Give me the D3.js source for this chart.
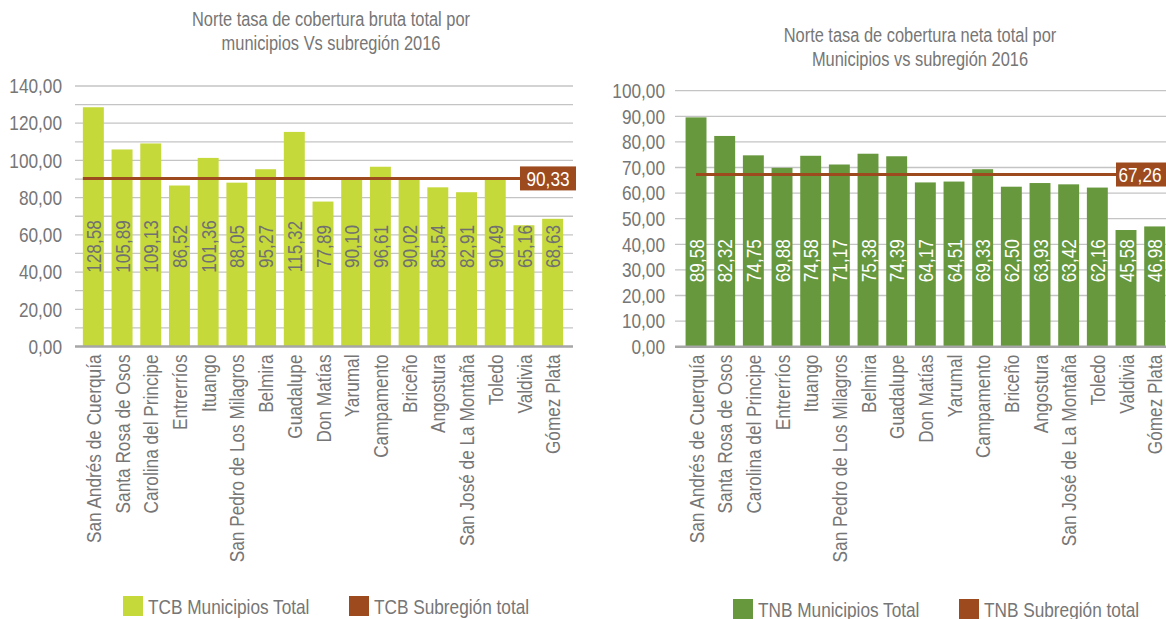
<!DOCTYPE html>
<html>
<head>
<meta charset="utf-8">
<script src="https://cdn.jsdelivr.net/npm/d3@7"></script>
<style>
  html, body { margin: 0; padding: 0; background: #ffffff; }
  svg { display: block; }
  text { font-family: "Liberation Sans", Arial, sans-serif; }
</style>
</head>
<body>
<svg id="chart" width="1166" height="619"></svg>
<script>
// Municipalities of the Norte subregion
const categories = [
  "San Andrés de Cuerquía", "Santa Rosa de Osos", "Carolina del Principe", "Entrerríos",
  "Ituango", "San Pedro de Los Milagros", "Belmira", "Guadalupe", "Don Matías",
  "Yarumal", "Campamento", "Briceño", "Angostura", "San José de La Montaña",
  "Toledo", "Valdivia", "Gómez Plata"
];

// Gross coverage rate (TCB) per municipality and subregion total
const tcbValues = [128.58, 105.89, 109.13, 86.52, 101.36, 88.05, 95.27, 115.32, 77.89,
                   90.10, 96.61, 90.02, 85.54, 82.91, 90.49, 65.16, 68.63];
const tcbSubregion = 90.33;
const tcbTicks = [0, 20, 40, 60, 80, 100, 120, 140];
const tcbGrid = d3.range(0, 141, 10);

// Net coverage rate (TNB) per municipality and subregion total
const tnbValues = [89.58, 82.32, 74.75, 69.88, 74.58, 71.17, 75.38, 74.39, 64.17,
                   64.51, 69.33, 62.50, 63.93, 63.42, 62.16, 45.58, 46.98];
const tnbSubregion = 67.26;
const tnbTicks = [0, 10, 20, 30, 40, 50, 60, 70, 80, 90, 100];
const tnbGrid = tnbTicks;

const locale = d3.formatLocale({ decimal: ",", thousands: ".", grouping: [3], currency: ["", ""] });
const fmt = locale.format(".2f");

const svg = d3.select("#chart");
const TEXT_GRAY = "#767676";
const BROWN = "#9C4A1E";
const NARROW = 0.82;   // condensed look along the baseline

// Squeeze each text along its baseline to a narrow face
function narrow(sel) {
  sel.each(function () {
    const len = this.getComputedTextLength();
    if (len > 0) {
      this.setAttribute("textLength", (len * NARROW).toFixed(2));
      this.setAttribute("lengthAdjust", "spacingAndGlyphs");
    }
  });
}

function drawPanel(cfg) {
  const g = svg.append("g");

  const y = d3.scaleLinear().domain([0, cfg.max]).range([cfg.base, cfg.top]);
  const x = d3.scaleBand().domain(categories).range(cfg.band)
    .paddingInner(0.27).paddingOuter(0.135);

  // Title, one text per line
  g.append("g").selectAll("text").data(cfg.title).join("text")
    .attr("x", cfg.titleX)
    .attr("y", (d, i) => cfg.titleY + i * 24)
    .attr("text-anchor", "middle")
    .attr("fill", TEXT_GRAY)
    .style("font-size", "20px")
    .text(d => d)
    .call(narrow);

  // Gridlines
  g.append("g").selectAll("line").data(cfg.grid.filter(d => d > 0)).join("line")
    .attr("x1", cfg.plot[0]).attr("x2", cfg.plot[1])
    .attr("y1", d => y(d)).attr("y2", d => y(d))
    .attr("stroke", "#c4c4c4").attr("stroke-width", 1.3);

  // Y axis labels
  const yAxis = d3.axisLeft(y).tickValues(cfg.ticks).tickFormat(fmt).tickSize(0).tickPadding(0);
  const ya = g.append("g").attr("transform", `translate(${cfg.yLabelX},0)`).call(yAxis);
  ya.select(".domain").remove();
  ya.attr("font-family", null).attr("font-size", null);
  ya.selectAll("text").attr("fill", TEXT_GRAY).style("font-size", "21px").call(narrow);

  // Bars
  g.append("g").selectAll("rect").data(cfg.values).join("rect")
    .attr("x", (d, i) => x(categories[i]))
    .attr("width", x.bandwidth())
    .attr("y", d => y(d))
    .attr("height", d => y(0) - y(d))
    .attr("fill", cfg.color);

  // Baseline
  g.append("line")
    .attr("x1", cfg.plot[0]).attr("x2", cfg.plot[1])
    .attr("y1", y(0)).attr("y2", y(0))
    .attr("stroke", "#a6a6a6").attr("stroke-width", 2.5);

  // Value labels inside bars
  g.append("g").selectAll("text").data(cfg.values).join("text")
    .attr("transform", (d, i) => `translate(${x(categories[i]) + x.bandwidth() / 2},${y(0) - cfg.labelLift}) rotate(-90)`)
    .attr("text-anchor", "middle")
    .attr("dy", "0.36em")
    .attr("fill", cfg.labelColor)
    .style("font-size", "21px")
    .text(d => fmt(d))
    .call(narrow);

  // Subregion reference line
  const ly = y(cfg.subregion);
  const lx0 = cfg.lineFromCenter ? x(categories[0]) + x.bandwidth() / 2 : x(categories[0]);
  g.append("line")
    .attr("x1", lx0).attr("x2", cfg.plot[1])
    .attr("y1", ly).attr("y2", ly)
    .attr("stroke", BROWN).attr("stroke-width", 3);

  g.append("rect")
    .attr("x", cfg.boxX).attr("y", ly - 12)
    .attr("width", cfg.boxW).attr("height", 24)
    .attr("fill", BROWN);
  g.append("text")
    .attr("x", cfg.boxTextX).attr("y", ly)
    .attr("dy", "0.36em")
    .attr("text-anchor", "middle")
    .attr("fill", "#ffffff")
    .style("font-size", "21px")
    .text(fmt(cfg.subregion))
    .call(narrow);

  // Category labels
  g.append("g").selectAll("text").data(categories).join("text")
    .attr("transform", d => `translate(${x(d) + x.bandwidth() / 2},${cfg.base + 8}) rotate(-90)`)
    .attr("text-anchor", "end")
    .attr("dy", "0.36em")
    .attr("fill", TEXT_GRAY)
    .style("font-size", "21px")
    .text(d => d)
    .call(narrow);

  // Legend
  const lg = g.append("g");
  cfg.legend.forEach(item => {
    lg.append("rect")
      .attr("x", item.x).attr("y", cfg.legendY)
      .attr("width", 20).attr("height", 20)
      .attr("fill", item.color);
    lg.append("text")
      .attr("x", item.x + 25).attr("y", cfg.legendY + 18)
      .attr("fill", TEXT_GRAY)
      .style("font-size", "21px")
      .text(item.label)
      .call(narrow);
  });
}

drawPanel({
  values: tcbValues, subregion: tcbSubregion, max: 140,
  ticks: tcbTicks, grid: tcbGrid,
  base: 346.5, top: 86,
  band: [79, 567], plot: [75, 573],
  yLabelX: 62,
  color: "#C6D93B", labelColor: "#707070", labelLift: 100,
  lineFromCenter: false, boxX: 520, boxW: 56, boxTextX: 548,
  title: ["Norte tasa de cobertura bruta total por", "municipios Vs subregión 2016"],
  titleX: 331, titleY: 26,
  legendY: 596,
  legend: [
    { x: 123, color: "#C6D93B", label: "TCB Municipios Total" },
    { x: 349, color: BROWN, label: "TCB Subregión total" }
  ]
});

drawPanel({
  values: tnbValues, subregion: tnbSubregion, max: 100,
  ticks: tnbTicks, grid: tnbGrid,
  base: 346.7, top: 90.7,
  band: [681.7, 1169], plot: [675, 1166],
  yLabelX: 665,
  color: "#67983E", labelColor: "#ffffff", labelLift: 86,
  lineFromCenter: true, boxX: 1116, boxW: 50, boxTextX: 1140,
  title: ["Norte tasa de cobertura neta total por", "Municipios vs subregión 2016"],
  titleX: 920, titleY: 42,
  legendY: 599,
  legend: [
    { x: 733, color: "#67983E", label: "TNB Municipios Total" },
    { x: 959, color: BROWN, label: "TNB Subregión total" }
  ]
});
</script>
</body>
</html>
